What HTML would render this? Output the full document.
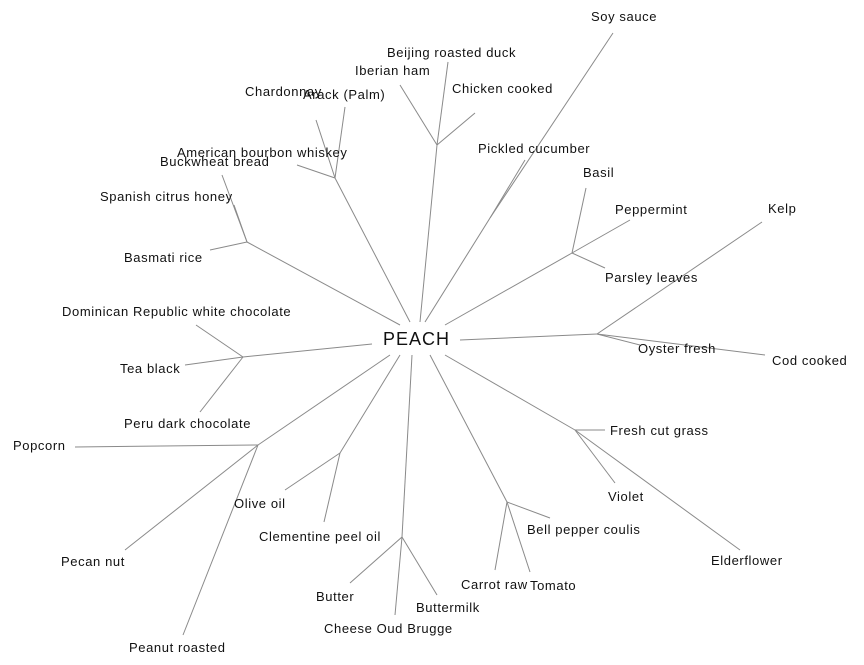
<!DOCTYPE html>
<html><head><meta charset="utf-8"><style>
html,body{margin:0;padding:0;background:#fff;}
svg{display:block;}
text{font-family:"Liberation Sans",sans-serif;font-size:13px;fill:#111;letter-spacing:0.6px;}
line{stroke:#8a8a8a;stroke-width:1;}
</style></head><body>
<svg width="864" height="665" viewBox="0 0 864 665">
<line x1="420" y1="322" x2="437" y2="145"/>
<line x1="437" y1="145" x2="400" y2="85"/>
<line x1="437" y1="145" x2="448" y2="62"/>
<line x1="437" y1="145" x2="475" y2="113"/>
<line x1="425" y1="322" x2="490" y2="218"/>
<line x1="490" y1="218" x2="613" y2="33"/>
<line x1="490" y1="218" x2="525" y2="160"/>
<line x1="410" y1="322" x2="335" y2="178"/>
<line x1="335" y1="178" x2="345" y2="107"/>
<line x1="335" y1="178" x2="316" y2="120"/>
<line x1="335" y1="178" x2="297" y2="165"/>
<line x1="400" y1="325" x2="247" y2="242"/>
<line x1="247" y1="242" x2="222" y2="175"/>
<line x1="247" y1="242" x2="234" y2="205"/>
<line x1="247" y1="242" x2="210" y2="250"/>
<line x1="445" y1="325" x2="572" y2="253"/>
<line x1="572" y1="253" x2="586" y2="188"/>
<line x1="572" y1="253" x2="630" y2="220"/>
<line x1="572" y1="253" x2="605" y2="268"/>
<line x1="460" y1="340" x2="597" y2="334"/>
<line x1="597" y1="334" x2="762" y2="222"/>
<line x1="597" y1="334" x2="765" y2="355"/>
<line x1="597" y1="334" x2="640" y2="345"/>
<line x1="372" y1="344" x2="243" y2="357"/>
<line x1="243" y1="357" x2="196" y2="325"/>
<line x1="243" y1="357" x2="185" y2="365"/>
<line x1="243" y1="357" x2="200" y2="412"/>
<line x1="390" y1="355" x2="258" y2="445"/>
<line x1="258" y1="445" x2="75" y2="447"/>
<line x1="258" y1="445" x2="125" y2="550"/>
<line x1="258" y1="445" x2="183" y2="635"/>
<line x1="400" y1="355" x2="340" y2="453"/>
<line x1="340" y1="453" x2="285" y2="490"/>
<line x1="340" y1="453" x2="324" y2="522"/>
<line x1="412" y1="355" x2="402" y2="537"/>
<line x1="402" y1="537" x2="350" y2="583"/>
<line x1="402" y1="537" x2="395" y2="615"/>
<line x1="402" y1="537" x2="437" y2="595"/>
<line x1="430" y1="355" x2="507" y2="502"/>
<line x1="507" y1="502" x2="495" y2="570"/>
<line x1="507" y1="502" x2="530" y2="572"/>
<line x1="507" y1="502" x2="550" y2="518"/>
<line x1="445" y1="355" x2="575" y2="430"/>
<line x1="575" y1="430" x2="605" y2="430"/>
<line x1="575" y1="430" x2="615" y2="483"/>
<line x1="575" y1="430" x2="740" y2="550"/>

<text x="383" y="345" style="font-size:18px;letter-spacing:1px">PEACH</text>
<text x="591" y="21">Soy sauce</text>
<text x="387" y="57">Beijing roasted duck</text>
<text x="355" y="75">Iberian ham</text>
<text x="452" y="93">Chicken cooked</text>
<text x="245" y="96">Chardonnay</text>
<text x="303" y="99">Arack (Palm)</text>
<text x="478" y="153">Pickled cucumber</text>
<text x="177" y="157">American bourbon whiskey</text>
<text x="160" y="166">Buckwheat bread</text>
<text x="583" y="177">Basil</text>
<text x="100" y="201">Spanish citrus honey</text>
<text x="768" y="213">Kelp</text>
<text x="615" y="214">Peppermint</text>
<text x="124" y="262">Basmati rice</text>
<text x="605" y="282">Parsley leaves</text>
<text x="62" y="316">Dominican Republic white chocolate</text>
<text x="638" y="353">Oyster fresh</text>
<text x="772" y="365">Cod cooked</text>
<text x="120" y="373">Tea black</text>
<text x="124" y="428">Peru dark chocolate</text>
<text x="610" y="435">Fresh cut grass</text>
<text x="13" y="450">Popcorn</text>
<text x="608" y="501">Violet</text>
<text x="234" y="508">Olive oil</text>
<text x="527" y="534">Bell pepper coulis</text>
<text x="259" y="541">Clementine peel oil</text>
<text x="711" y="565">Elderflower</text>
<text x="61" y="566">Pecan nut</text>
<text x="461" y="589">Carrot raw</text>
<text x="530" y="590">Tomato</text>
<text x="316" y="601">Butter</text>
<text x="416" y="612">Buttermilk</text>
<text x="324" y="633">Cheese Oud Brugge</text>
<text x="129" y="652">Peanut roasted</text>
</svg>
</body></html>
